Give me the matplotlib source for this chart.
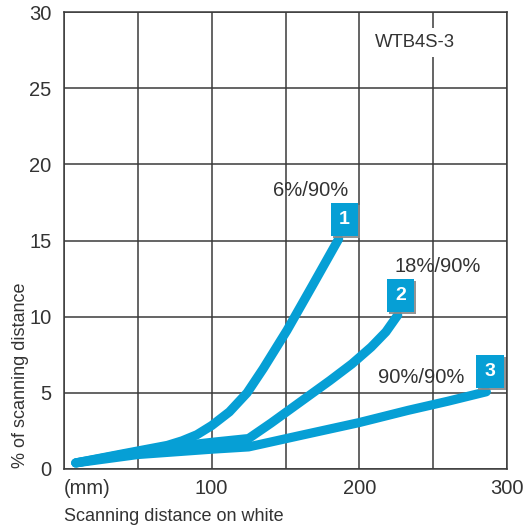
import matplotlib
matplotlib.use("Agg")
import matplotlib.pyplot as plt
import matplotlib.patheffects as pe

plt.rcParams['font.family'] = ['Liberation Sans', 'DejaVu Sans']

# curve 1: 6%/90%
x1 = [8, 40, 70, 80, 90, 100, 112, 124, 135, 151, 168, 186]
y1 = [0.4, 1.0, 1.55, 1.85, 2.25, 2.85, 3.75, 5.0, 6.6, 9.1, 12.0, 15.1]
# curve 2: 18%/90%
x2 = [8, 60, 100, 125, 140, 160, 180, 195, 208, 218, 226]
y2 = [0.4, 1.3, 1.75, 2.0, 3.0, 4.4, 5.8, 6.9, 8.0, 9.0, 10.1]
# curve 3: 90%/90%
x3 = [8, 50, 100, 125, 160, 200, 233, 260, 286]
y3 = [0.4, 0.95, 1.3, 1.45, 2.2, 3.05, 3.85, 4.45, 5.07]

labels = ["6%/90%", "18%/90%", "90%/90%"]
numbers = ["1", "2", "3"]
label_pos = [(167, 18.3), (253, 13.3), (242, 6.0)]
box_pos = [(190, 16.4), (228, 11.4), (288.5, 6.4)]

xticks = [0, 100, 200, 300]
xticklabels = ["(mm)", "100", "200", "300"]
yticks = [0, 5, 10, 15, 20, 25, 30]

blue = '#069fd5'
txt = '#333333'
gridc = '#3a3a3a'

fig = plt.figure(figsize=(5.24, 5.27), dpi=100)
ax = fig.add_axes([64 / 524, 1 - 469 / 527, 443 / 524, 457 / 527])

for x, y in [(x1, y1), (x2, y2), (x3, y3)]:
    ax.plot(x, y, color=blue, lw=6.6, solid_capstyle='round',
            solid_joinstyle='round', zorder=3)

ax.set_xlim(0, 300)
ax.set_ylim(0, 30)
ax.set_xticks(xticks)
ax.set_xticklabels(xticklabels)
ax.set_xticks(range(0, 301, 50), minor=True)
ax.set_yticks(yticks)
ax.grid(True, which='both', color=gridc, lw=1.1, zorder=1)
ax.tick_params(which='both', length=0)
ax.tick_params(axis='x', pad=7, labelsize=14.5, labelcolor=txt)
ax.tick_params(axis='y', pad=9, labelsize=14.5, labelcolor=txt)
ax.get_xticklabels()[0].set_horizontalalignment('left')
for s in ax.spines.values():
    s.set_color(gridc)
    s.set_linewidth(1.1)

ax.set_xlabel("Scanning distance on white", fontsize=13, color=txt)
ax.xaxis.set_label_coords(0.0, -0.105)
ax.xaxis.label.set_horizontalalignment('left')
ax.xaxis.label.set_verticalalignment('center')
ax.set_ylabel("% of scanning distance", fontsize=13, color=txt)
ax.yaxis.set_label_coords(-0.08, 0.205)

for lab, (lx, ly) in zip(labels, label_pos):
    ax.text(lx, ly, lab, fontsize=14.5, color=txt, ha='center', va='center', zorder=4)

for num, (bx, by) in zip(numbers, box_pos):
    t = ax.text(bx, by, num, fontsize=14, fontweight='bold', color='white',
                ha='center', va='center', zorder=5,
                bbox=dict(boxstyle='square,pad=0.42', fc=blue, ec='none'))
    t.get_bbox_patch().set_path_effects([
        pe.SimplePatchShadow(offset=(1.5, -1.5), shadow_rgbFace='#888888', alpha=0.9),
        pe.Normal()])

ax.text(237.6, 28.0, "WTB4S-3", fontsize=13.3, color=txt, ha='center', va='center',
        zorder=4, bbox=dict(boxstyle='square,pad=0.3', fc='white', ec='none'))

fig.savefig("out.png", dpi=100)
